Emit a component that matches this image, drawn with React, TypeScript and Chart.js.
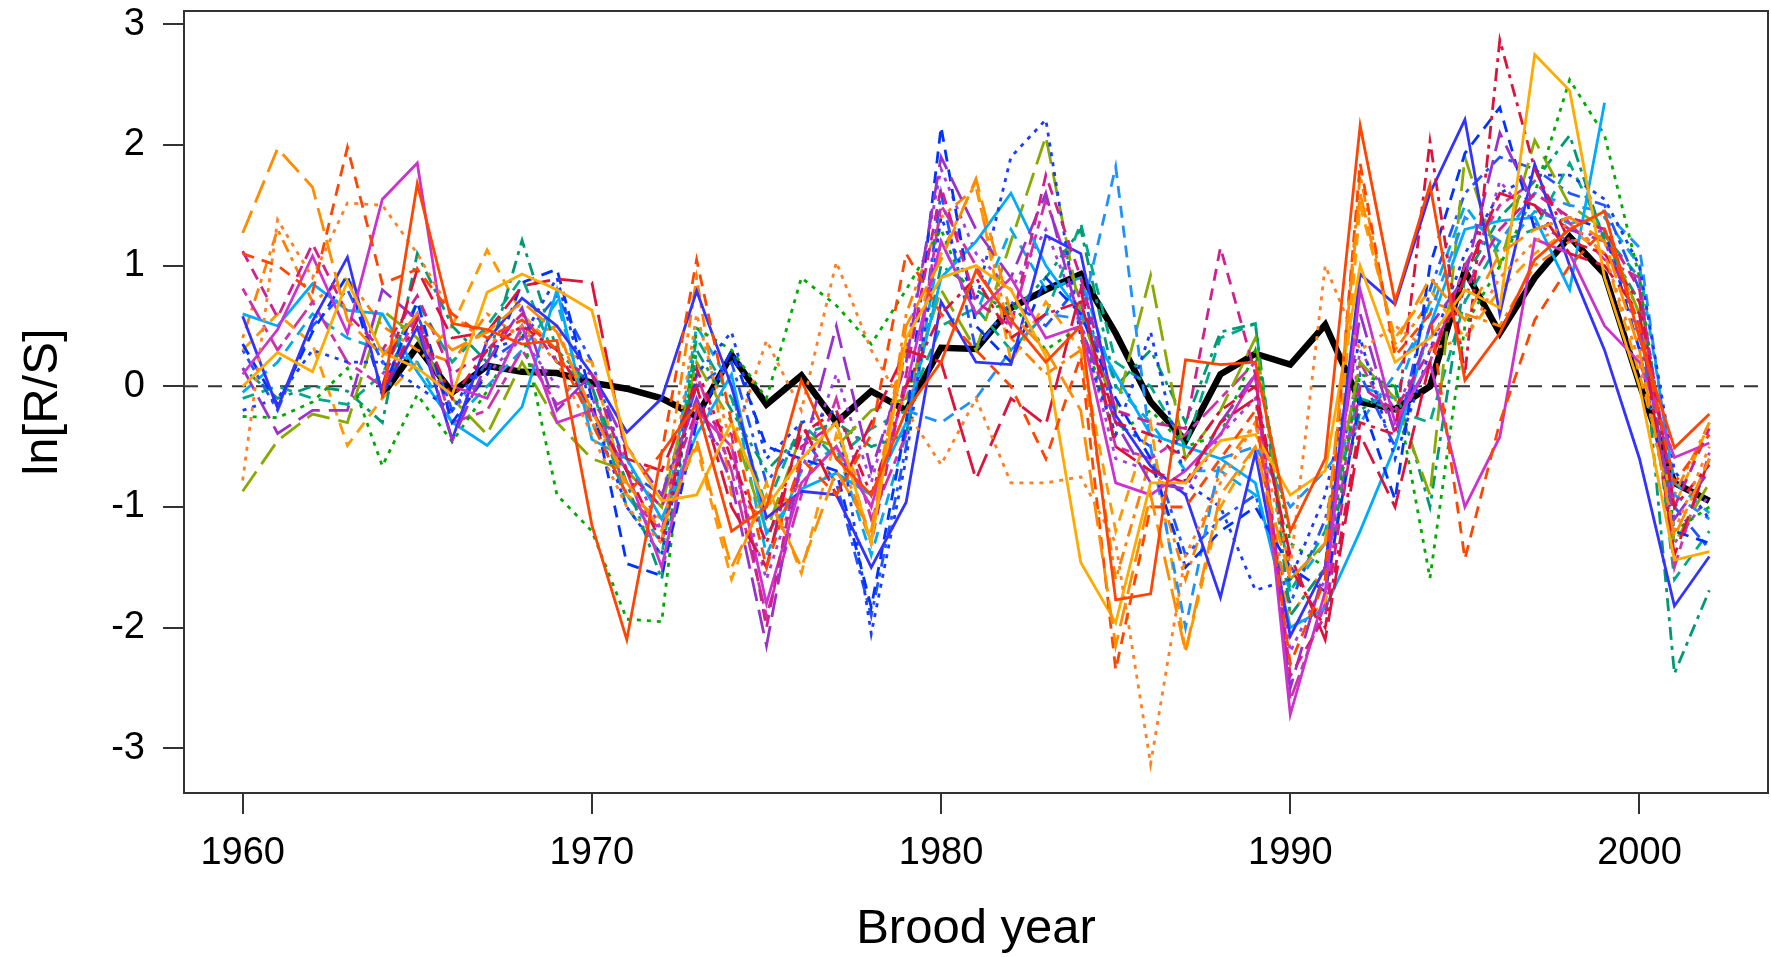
import React, { useEffect, useRef } from "react";
import { Chart, registerables } from "chart.js";

Chart.register(...registerables);

// Brood years (x categories)
const YEARS = [
  1960, 1961, 1962, 1963, 1964, 1965, 1966, 1967, 1968, 1969,
  1970, 1971, 1972, 1973, 1974, 1975, 1976, 1977, 1978, 1979,
  1980, 1981, 1982, 1983, 1984, 1985, 1986, 1987, 1988, 1989,
  1990, 1991, 1992, 1993, 1994, 1995, 1996, 1997, 1998, 1999,
  2000, 2001, 2002,
];

const X_TICKS = [1960, 1970, 1980, 1990, 2000];
const Y_TICKS = [-3, -2, -1, 0, 1, 2, 3];

// ln(R/S) by stock, 1960-2002 (null = no data)
const s01 = [
  null, null, null, null, -0.10, 1.68, 0.52, 0.47, 0.35, 0.38,
  -1.15, -2.10, -0.55, -0.15, -1.20, -1.00, 0.05, -0.60, -0.90, -0.20,
  0.20, 0.96, 0.55, 0.20, 0.50, -1.77, -1.72, 0.22, 0.18, 0.20,
  -1.20, -0.60, 2.16, 0.70, 1.67, 0.05, 0.44, 1.05, 1.30, 1.45,
  0.40, -0.51, -0.23,
];
const s02 = [
  1.27, 1.97, 1.65, 0.55, 0.25, 0.60, 0.30, 0.45, 0.70, 0.45,
  -0.20, -0.80, -1.20, -0.45, -1.50, -0.90, -1.50, -0.70, -1.20, 0.50,
  1.05, 1.72, 0.60, 0.30, -0.20, -2.15, -0.90, -2.20, -0.90, -0.50,
  -1.60, -1.30, 1.60, 0.35, 0.90, 0.55, 1.10, 1.30, 1.40, 1.20,
  0.30, -1.25, -0.60,
];
const s03 = [
  1.10, 1.00, 0.78, 1.98, 0.85, 0.97, 0.60, 0.40, 0.55, 0.30,
  -0.30, -0.90, -0.55, 1.05, -0.30, -1.50, -0.60, -0.90, -0.40, 1.10,
  0.60, 0.30, 0.00, -0.60, 0.25, -2.35, -1.00, -1.00, -0.60, -0.20,
  -2.30, -1.60, 1.85, 0.25, 0.60, -1.43, -0.30, 0.55, 1.00, 1.30,
  0.50, -0.80, -0.40,
];
const s04 = [
  -0.78, 1.38, 0.90, 1.52, 1.50, 1.10, 0.60, 0.35, 0.50, 0.20,
  -0.40, -1.00, -1.30, 0.60, -0.50, 0.38, -0.20, 1.03, 0.30, -0.20,
  -0.65, -0.10, -0.80, -0.80, -0.75, -1.30, -3.13, -1.40, -0.80, -0.30,
  -1.50, 1.00, 0.30, 0.50, 0.30, 0.40, 0.90, 1.20, 1.35, 1.10,
  0.20, -1.20, -0.50,
];
const s05 = [
  0.00, 0.28, 0.12, 0.87, 0.28, 0.15, -0.07, 0.78, 0.93, 0.80,
  0.63, -0.50, -0.95, -0.90, -0.30, -1.00, -0.60, -0.30, -1.30, 0.40,
  0.90, 1.00, 0.80, 0.25, -1.46, -1.96, -0.80, -0.80, -0.45, -0.40,
  -0.90, -0.70, 1.00, 0.20, 0.40, 0.80, 0.65, 2.75, 2.45, 0.90,
  0.00, -1.44, -1.37,
];
const s06 = [
  null, null, null, null, 0.00, 0.97, 0.40, 0.45, 0.83, 0.89,
  0.86, -0.60, -0.70, 0.00, -1.00, -1.50, -0.30, -0.90, -0.30, 0.30,
  0.20, -0.77, -0.10, -0.32, 0.80, -0.50, -0.70, -0.80, -0.30, -0.10,
  -1.40, -2.10, -0.40, -1.00, 0.20, 0.90, 1.60, 1.50, 1.10, 1.00,
  0.60, -1.40, -0.60,
];
const s07 = [
  null, null, null, null, -0.05, 0.55, -0.10, 0.30, 0.50, 0.30,
  -0.20, -0.70, -1.30, 0.15, -0.60, -1.30, -0.40, -0.20, -0.90, 0.00,
  0.60, 0.90, 0.40, 0.60, 0.70, -0.30, -0.40, -0.60, -0.20, 0.00,
  -1.50, -2.00, -0.30, -0.40, 2.03, 0.10, 2.87, 1.80, 1.20, 1.10,
  0.70, -1.00, -0.65,
];
const s08 = [
  1.12, 0.57, 1.18, 0.60, 0.30, 0.75, 0.10, 0.30, 0.60, 0.20,
  0.10, -0.70, -1.00, -0.20, -0.40, -2.00, -0.50, -0.30, -1.30, 0.10,
  1.65, 0.70, 0.50, 1.75, 0.90, -0.20, -0.30, -0.35, 1.15, 0.10,
  -2.40, -1.90, 0.00, -0.20, 0.30, 0.80, 1.30, 1.60, 1.40, 1.30,
  0.80, -1.00, -0.35,
];
const s09 = [
  0.10, 0.47, 1.08, 0.44, 1.55, 1.85, 0.00, -0.10, 0.50, -0.30,
  -0.20, -0.70, -1.50, -0.20, -0.50, -1.80, -0.80, -0.50, -1.00, 0.00,
  1.20, 0.60, 0.90, 0.40, 0.50, -0.80, -0.90, -0.70, -0.40, 0.10,
  -2.72, -1.70, 0.80, -0.30, 0.20, -1.00, -0.42, 1.22, 1.10, 0.50,
  0.20, -0.59, -0.47,
];
const s10 = [
  0.15, -0.39, -0.20, -0.20, 0.80, 0.55, -0.45, 0.20, 0.65, -0.20,
  0.10, -0.50, -0.90, -0.10, -0.80, -2.15, -0.60, 0.50, -0.70, 0.20,
  1.90, 1.30, 0.90, 1.60, 0.50, -0.30, -0.80, -0.85, -0.30, 0.10,
  -2.50, -1.50, 0.60, -0.40, 0.50, 0.90, 2.10, 1.50, 1.30, 1.20,
  0.50, -1.10, -0.70,
];
const s11 = [
  0.58, -0.18, 0.54, 1.07, -0.07, 0.49, -0.44, 0.38, 0.73, 0.50,
  0.10, -0.38, -0.10, 0.79, 0.00, -1.09, -0.87, -0.90, -1.50, -0.96,
  0.70, 0.20, 0.18, 1.25, 1.10, -0.24, -0.66, -0.90, -1.75, -0.55,
  -2.07, -1.50, 0.93, 0.68, 1.60, 2.21, 0.60, 1.84, 1.00, 0.30,
  -0.60, -1.82, -1.41,
];
const s12 = [
  0.35, -0.15, 0.45, 0.92, -0.05, 0.70, -0.30, 0.10, 0.86, 0.97,
  -0.10, -1.47, -1.57, -0.30, 0.30, -0.50, -0.60, -0.70, -1.83, -0.30,
  2.15, 0.50, 0.20, 0.90, 0.60, -0.10, -0.60, -1.50, -1.20, -1.00,
  -1.50, -1.70, -0.10, -0.94, 1.00, 1.93, 2.31, 1.30, 1.40, 1.30,
  0.30, -1.20, -1.30,
];
const s13 = [
  -0.20, -0.10, 0.30, 0.20, 0.20, 0.00, -0.20, 0.30, 0.40, 0.90,
  -0.20, -1.00, -1.40, 0.10, 0.45, -0.60, -0.30, -0.20, -2.05, -0.60,
  1.40, 0.70, 1.90, 2.21, 0.40, -0.40, 0.45, -0.80, -1.00, -1.69,
  -1.60, -0.90, 0.40, -0.60, 0.30, 1.10, 1.60, 1.75, 1.75, 1.55,
  1.00, -0.70, -1.10,
];
const s14 = [
  0.60, 0.50, 0.85, 0.63, 0.60, 0.12, -0.30, -0.49, -0.17, 0.80,
  -0.44, -0.60, -1.10, -0.40, 0.10, -1.22, -0.85, -0.72, -0.90, -0.30,
  0.90, 1.20, 1.60, 1.00, 0.60, 0.10, -0.40, -0.50, -0.60, -0.80,
  -2.00, -1.84, -1.20, -0.50, 0.50, 1.30, 1.37, 1.40, 0.80, 2.35,
  null, null, null,
];
const s15 = [
  null, null, null, null, null, null, null, null, null, null,
  null, null, null, null, null, null, null, null, null, -0.20,
  -0.30, -0.10, 0.30, 0.60, 0.56, 1.82, -0.50, -2.00, -0.60, -0.50,
  -1.00, -0.70, -0.30, 0.10, 0.60, 1.40, 1.20, 1.60, 1.50, 1.45,
  1.15, -0.90, -1.10,
];
const s16 = [
  -0.25, -0.26, -0.13, 0.15, -0.66, -0.07, -0.46, -0.04, 0.47, -0.90,
  -1.20, -1.93, -1.95, 0.48, 0.30, -0.10, 0.90, 0.67, 0.35, 0.80,
  1.30, 0.60, 0.70, 0.30, 0.50, -0.40, -0.20, -0.50, -0.40, 0.30,
  -1.30, -1.50, 0.10, 0.00, -1.59, 0.50, 1.00, 1.60, 2.54, 2.08,
  0.90, -1.20, -1.00,
];
const s17 = [
  -0.87, -0.45, -0.23, -0.30, 0.63, 0.40, -0.10, -0.40, 0.20, -0.30,
  -0.60, -0.70, -1.00, 0.20, -0.30, -1.20, -0.40, -0.50, -0.20, -0.10,
  0.80, 0.30, 1.20, 2.07, 0.60, -0.20, 0.92, -0.60, -0.20, 0.40,
  -1.60, -1.30, 0.20, -0.10, -0.90, 1.90, 1.00, 2.04, 1.50, 1.30,
  0.60, -1.30, -0.80,
];
const s18 = [
  0.15, -0.10, 0.00, -0.04, -0.30, 1.10, 0.50, 0.20, 1.21, 0.30,
  0.00, -0.80, -1.60, 0.30, -0.20, -0.70, -0.40, -0.30, -0.50, -0.40,
  1.00, 0.80, 0.60, 0.90, 1.30, 0.00, 0.30, -0.30, 0.45, 0.52,
  -1.90, -1.50, -0.20, 0.00, -1.00, 0.90, 1.40, 1.70, 2.08, 1.20,
  0.70, -2.38, -1.69,
];
const s19 = [
  0.30, 0.60, 0.35, -0.49, -0.10, 0.20, 0.50, 1.13, 0.60, 0.30,
  0.20, -0.90, -1.10, -0.50, -1.60, -0.80, -1.55, -0.40, -1.00, 0.30,
  1.10, 1.70, 0.20, 0.70, 0.30, -1.20, -0.30, -2.20, -1.00, -0.50,
  -2.00, -1.80, 1.50, 0.40, 0.80, 0.40, 0.80, 1.10, 1.30, 1.10,
  0.10, -1.00, -0.30,
];
const s20 = [
  0.81, 0.30, 0.70, 0.20, 0.00, 0.60, -0.30, -0.20, 0.30, -0.15,
  0.00, -0.90, -1.20, 0.10, -0.70, -1.90, -0.90, -0.10, -1.10, -0.40,
  1.50, 1.00, 0.50, 1.55, 0.70, -0.50, -0.60, -0.40, -0.10, 0.20,
  -2.60, -1.80, 0.20, -0.35, 0.20, 1.00, 1.50, 1.70, 1.35, 1.05,
  0.90, -1.50, -0.55,
];
const s21 = [
  0.30, -0.20, 0.50, 0.80, 0.20, 0.60, -0.20, 0.20, 0.40, 0.75,
  0.20, -0.70, -0.90, 0.00, 0.20, -0.80, -0.40, -0.80, -1.90, -0.50,
  1.60, 0.30, 0.70, 0.50, 0.85, -0.30, -0.50, -1.40, -1.10, -0.90,
  -1.80, -1.10, 0.10, -0.50, 0.80, 1.60, 1.90, 1.80, 1.60, 1.50,
  0.80, -1.00, -1.35,
];
const s22 = [
  -0.10, 0.00, -0.10, -0.15, 0.10, 0.70, 0.20, 0.50, 0.90, 0.20,
  0.00, -1.00, -1.40, 0.40, -0.10, -1.00, -0.30, -0.60, -0.35, -0.20,
  0.50, 0.65, 0.30, 0.60, 1.35, 0.20, 0.00, -0.50, 0.40, 0.52,
  -1.70, -1.20, -0.10, -0.20, -0.30, 0.70, 1.20, 1.30, 1.85, 1.25,
  0.90, -1.60, -1.20,
];
const s23 = [
  null, null, null, null, 0.10, 0.50, -0.20, 0.10, 0.40, 0.00,
  -0.10, -0.60, -1.20, -0.30, -0.60, -1.60, -0.70, 0.10, -0.80, 0.30,
  1.80, 1.10, 0.80, 1.30, 0.55, -0.60, -0.70, -0.90, -0.40, -0.10,
  -2.20, -1.60, 0.30, -0.20, 0.40, 0.70, 1.70, 1.35, 1.20, 1.30,
  0.40, -1.30, -0.90,
];
const s24 = [
  0.40, 1.30, 0.70, 0.90, 0.50, 0.30, 0.20, 0.60, 0.40, 0.50,
  -0.30, -0.70, -1.00, 0.90, -0.90, -1.10, -0.80, -0.50, -1.30, 0.60,
  1.40, 1.65, 0.40, 0.10, 0.30, -1.60, -0.60, -1.60, -0.70, -0.30,
  -1.90, -1.50, 1.75, 0.30, 0.70, 0.60, 0.50, 1.00, 1.20, 1.25,
  0.60, -0.90, -0.30,
];
const s25 = [
  -0.05, 0.20, 0.60, 0.40, 0.30, 0.20, -0.30, 0.00, 0.30, 0.70,
  -0.30, -0.90, -1.30, 0.50, 0.00, -1.40, -0.70, -0.50, -1.40, -0.40,
  1.20, 0.60, 1.30, 0.80, 0.90, 0.00, -0.30, -0.70, -0.70, -0.90,
  -1.70, -1.30, 0.00, -0.10, 0.70, 1.50, 1.10, 1.45, 1.35, 1.40,
  1.00, -0.80, -1.05,
];

// Mean ln(R/S) across stocks
const MEAN = [
  null, null, null, null, -0.07, 0.33, -0.05, 0.17, 0.12, 0.11,
  0.03, -0.02, -0.10, -0.25, 0.26, -0.15, 0.09, -0.30, -0.04, -0.20,
  0.32, 0.31, 0.65, 0.80, 0.93, 0.44, -0.13, -0.45, 0.10, 0.27,
  0.18, 0.51, -0.13, -0.19, 0.00, 0.96, 0.44, 0.90, 1.24, 0.93,
  0.02, -0.80, -0.95,
];

const SERIES = [
  s01, s02, s03, s04, s05, s06, s07, s08, s09, s10, s11, s12, s13,
  s14, s15, s16, s17, s18, s19, s20, s21, s22, s23, s24, s25,
];

// ---- styles (kept apart from the data) ----
const SOLID: number[] = [];
const DASHED = [12, 8];
const DOTTED = [4, 6];
const DOTDASH = [4, 6, 13, 6];
const LONGDASH = [24, 9];
const TWODASH = [8, 6, 22, 6];

const COLORS = [
  "#FF4500", "#FF8C00", "#FF4500", "#FF7F24", "#FFAA00",
  "#DC143C", "#DC143C", "#D02090", "#CC33CC", "#9932CC",
  "#3333FF", "#0033FF", "#1A3CFF", "#00AAFF", "#1E90FF",
  "#00AA00", "#88AA00", "#009973", "#FF9900", "#CC33AA",
  "#2255FF", "#00AA88", "#A040E0", "#FF8000", "#00AAEE",
];
const DASHES = [
  SOLID, LONGDASH, DASHED, DOTTED, SOLID,
  LONGDASH, DOTDASH, DASHED, SOLID, LONGDASH,
  SOLID, DASHED, DOTTED, SOLID, DASHED,
  DOTTED, LONGDASH, DOTDASH, DASHED, TWODASH,
  DOTDASH, DASHED, DOTTED, DOTDASH, DASHED,
];

const FONT = "'Liberation Sans', Arial, Helvetica, sans-serif";

const frame = {
  id: "frame",
  beforeDatasetsDraw(chart: any) {
    const { ctx, chartArea, scales } = chart;
    const y0 = scales.y.getPixelForValue(0);
    ctx.save();
    ctx.strokeStyle = "#333";
    ctx.lineWidth = 2;
    ctx.setLineDash([14, 10]);
    ctx.beginPath();
    ctx.moveTo(chartArea.left, y0);
    ctx.lineTo(chartArea.right, y0);
    ctx.stroke();
    ctx.restore();
  },
  afterDraw(chart: any) {
    const { ctx, chartArea } = chart;
    ctx.save();
    ctx.strokeStyle = "#333";
    ctx.lineWidth = 2;
    ctx.setLineDash([]);
    ctx.strokeRect(
      chartArea.left,
      chartArea.top,
      chartArea.right - chartArea.left,
      chartArea.bottom - chartArea.top
    );
    ctx.restore();
  },
};

export default function App() {
  const ref = useRef<HTMLCanvasElement | null>(null);

  useEffect(() => {
    if (!ref.current) return;
    const toPts = (arr: (number | null)[]) =>
      arr.map((v, j) => ({ x: YEARS[j], y: v }));

    const datasets: any[] = SERIES.map((s, i) => ({
      label: "stock " + (i + 1),
      data: toPts(s),
      borderColor: COLORS[i],
      borderDash: DASHES[i],
      borderWidth: 2.8,
      borderCapStyle: "butt",
      pointRadius: 0,
      tension: 0,
      fill: false,
      spanGaps: false,
    }));
    datasets.push({
      label: "mean",
      data: toPts(MEAN),
      borderColor: "#000",
      borderDash: [],
      borderWidth: 6.5,
      borderJoinStyle: "miter",
      pointRadius: 0,
      tension: 0,
      fill: false,
    });

    const chart = new Chart(ref.current, {
      type: "line",
      data: { datasets },
      plugins: [frame],
      options: {
        responsive: false,
        animation: false,
        devicePixelRatio: 1,
        layout: { padding: { top: 11, right: 3, left: 0, bottom: 0 } },
        plugins: { legend: { display: false }, tooltip: { enabled: false } },
        scales: {
          x: {
            type: "linear",
            min: 1958.32,
            max: 2003.68,
            afterFit: (s: any) => {
              s.height = 164;
              s.paddingLeft = 0;
              s.paddingRight = 0;
            },
            afterBuildTicks: (s: any) => {
              s.ticks = X_TICKS.map((v) => ({ value: v }));
            },
            ticks: {
              includeBounds: false,
              stepSize: 10,
              maxRotation: 0,
              autoSkip: false,
              padding: 17,
              color: "#000",
              font: { family: FONT, size: 38 },
              callback: (v: any) => String(v),
            },
            grid: {
              drawOnChartArea: false,
              drawTicks: true,
              tickLength: 21,
              tickColor: "#333",
              lineWidth: 2,
            },
            border: { display: false },
            title: {
              display: true,
              text: "Brood year",
              color: "#000",
              font: { family: FONT, size: 49 },
              padding: { top: 0, bottom: -2 },
            },
          },
          y: {
            type: "linear",
            min: -3.37,
            max: 3.11,
            afterFit: (s: any) => {
              s.width = 184;
              s.paddingTop = 0;
              s.paddingBottom = 0;
            },
            afterBuildTicks: (s: any) => {
              s.ticks = Y_TICKS.map((v) => ({ value: v }));
            },
            ticks: {
              includeBounds: false,
              stepSize: 1,
              autoSkip: false,
              padding: 18,
              color: "#000",
              font: { family: FONT, size: 38 },
              callback: (v: any) => String(v),
            },
            grid: {
              drawOnChartArea: false,
              drawTicks: true,
              tickLength: 21,
              tickColor: "#333",
              lineWidth: 2,
            },
            border: { display: false },
            title: {
              display: true,
              text: "ln[R/S]",
              color: "#000",
              font: { family: FONT, size: 49 },
              padding: { top: 14, bottom: 0 },
            },
          },
        },
      },
    } as any);

    return () => chart.destroy();
  }, []);

  return (
    <div
      style={{
        position: "fixed",
        left: 0,
        top: 0,
        width: 1771,
        height: 957,
        background: "#fff",
      }}
    >
      <canvas
        ref={ref}
        width={1771}
        height={957}
        style={{ display: "block", width: 1771, height: 957 }}
      />
    </div>
  );
}
